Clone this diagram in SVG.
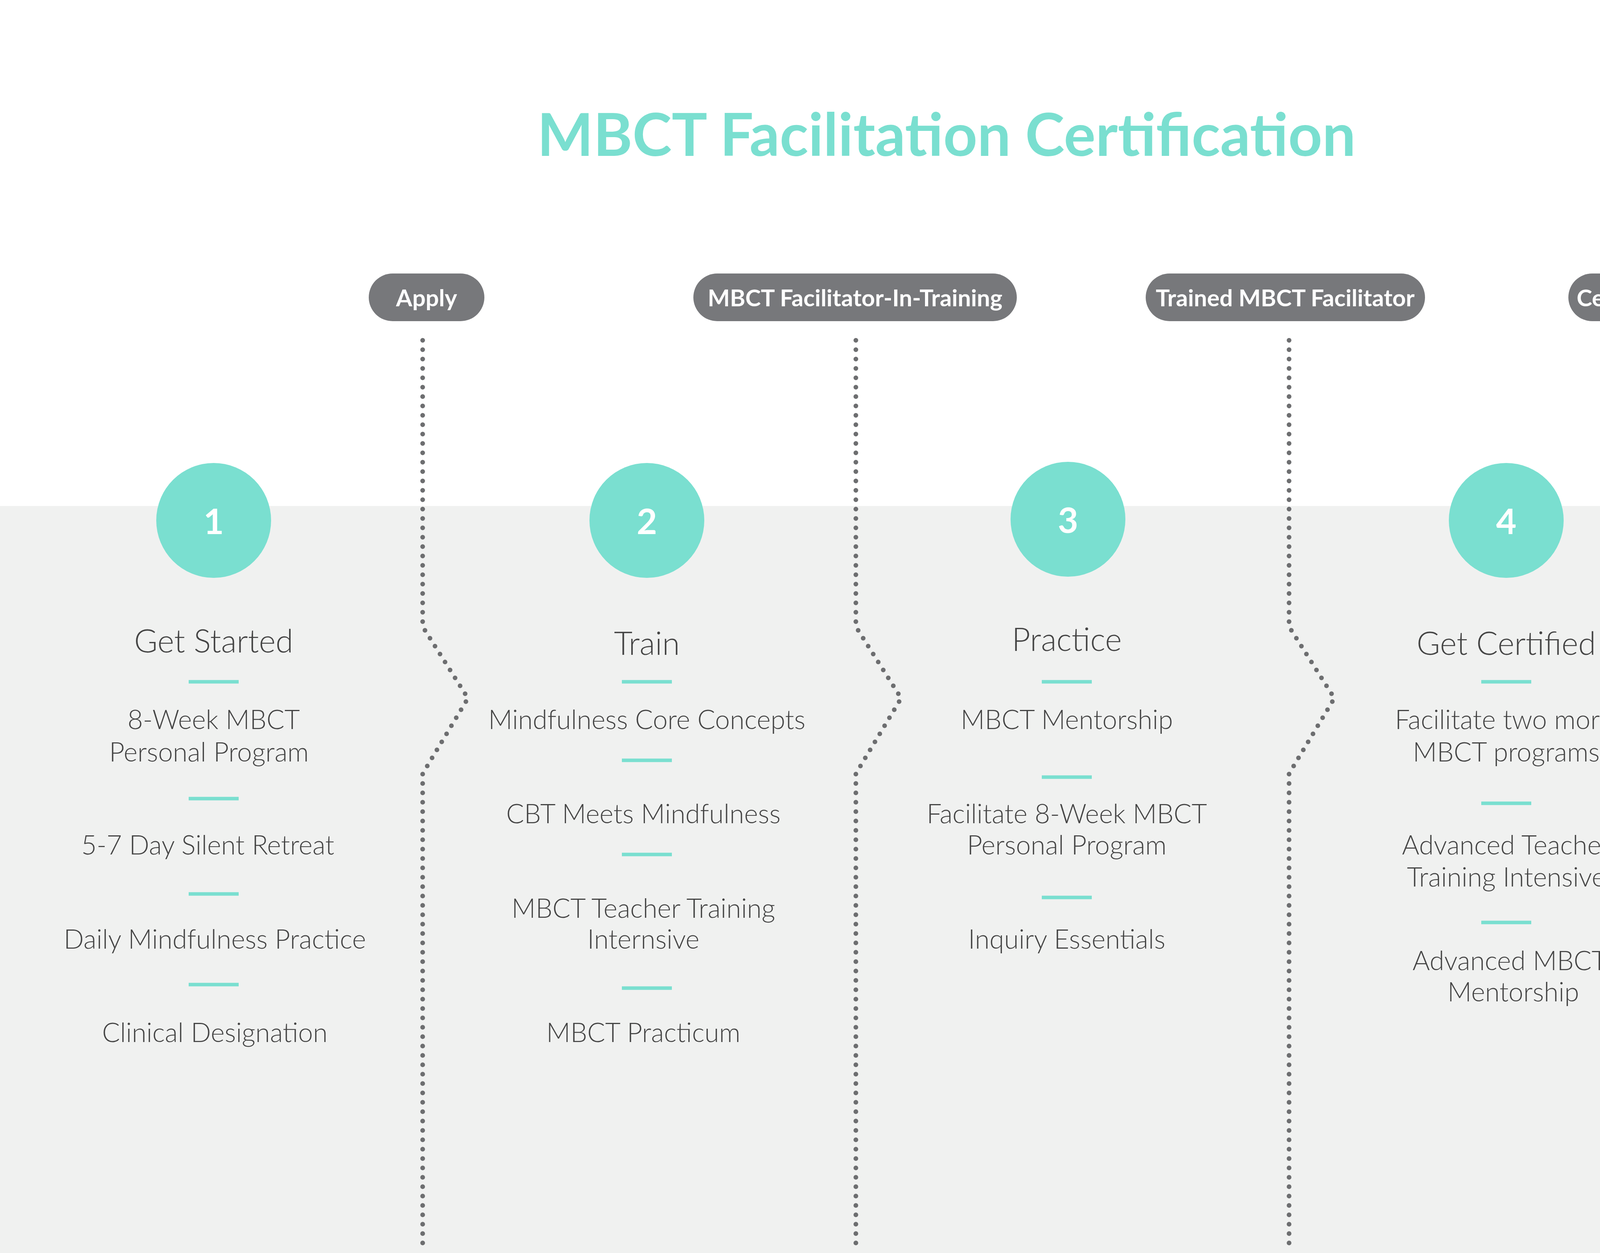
<svg xmlns="http://www.w3.org/2000/svg" width="4791" height="3207" viewBox="0 0 4791 3207">
<style>
.pill{fill:#77787b}
.pt{fill:#fff;font-family:Lato,"Open Sans",sans-serif;font-weight:700;font-size:60px;text-anchor:middle;dominant-baseline:central}
.dot{fill:none;stroke:#6d6e70;stroke-width:12;stroke-linecap:round;stroke-dasharray:0 24}
.circ{fill:#7adfd0}
.num{fill:#fff;font-family:Lato,"Open Sans",sans-serif;font-weight:700;font-size:90px;text-anchor:middle;dominant-baseline:central}
.h{fill:#444;font-family:Lato,"Open Sans",sans-serif;font-weight:300;font-size:82px;text-anchor:middle;dominant-baseline:central}
.t{fill:#444;font-family:Lato,"Open Sans",sans-serif;font-weight:300;font-size:68px;text-anchor:middle;dominant-baseline:central}
.d{stroke:#7adfd0;stroke-width:9}
</style>
<rect width="4791" height="3207" fill="#fff"/>
<rect x="0" y="1295" width="4791" height="1912" fill="#f0f1f0"/>
<text x="2423" y="340" fill="#7adfd0" font-family="Lato,'Open Sans',sans-serif" font-weight="700" font-size="152" text-anchor="middle" dominant-baseline="central">MBCT Facilitation Certification</text>
<g id="connectors">
<path class="dot" d="M1082 871V1604L1198 1787L1082 1980V3193"/>
<path class="dot" d="M2191 871V1604L2307 1787L2191 1980V3193"/>
<path class="dot" d="M3300 871V1604L3416 1787L3300 1980V3193"/>
<path class="dot" d="M4391 871V1604L4507 1787L4391 1980V3193"/>
</g>
<g id="pill-apply"><rect class="pill" x="944" y="700" width="296" height="122" rx="61"/><text class="pt" x="1092" y="761">Apply</text></g>
<g id="pill-fit"><rect class="pill" x="1775" y="700" width="828" height="122" rx="61"/><text class="pt" x="2189" y="761">MBCT Facilitator-In-Training</text></g>
<g id="pill-trained"><rect class="pill" x="2933" y="700" width="715" height="122" rx="61"/><text class="pt" x="3290" y="761">Trained MBCT Facilitator</text></g>
<g id="pill-certified"><rect class="pill" x="4015" y="700" width="742" height="122" rx="61"/><text class="pt" x="4386" y="761">Certified MBCT Facilitator</text></g>
<g id="step1">
<circle class="circ" cx="547" cy="1332" r="147"/><text class="num" x="547" y="1332">1</text>
<text class="h" x="547" y="1638">Get Started</text>
<line class="d" x1="483" y1="1745" x2="611" y2="1745"/>
<text class="t" x="547" y="1839">8-Week MBCT</text><text class="t" x="535" y="1922">Personal Program</text>
<line class="d" x1="483" y1="2044" x2="611" y2="2044"/>
<text class="t" x="532" y="2160">5-7 Day Silent Retreat</text>
<line class="d" x1="483" y1="2288" x2="611" y2="2288"/>
<text class="t" x="550" y="2401">Daily Mindfulness Practice</text>
<line class="d" x1="483" y1="2520" x2="611" y2="2520"/>
<text class="t" x="550" y="2640">Clinical Designation</text>
</g>
<g id="step2">
<circle class="circ" cx="1656" cy="1332" r="147"/><text class="num" x="1656" y="1332">2</text>
<text class="h" x="1656" y="1644">Train</text>
<line class="d" x1="1592" y1="1745" x2="1720" y2="1745"/>
<text class="t" x="1656" y="1839">Mindfulness Core Concepts</text>
<line class="d" x1="1592" y1="1946" x2="1720" y2="1946"/>
<text class="t" x="1647" y="2080">CBT Meets Mindfulness</text>
<line class="d" x1="1592" y1="2187" x2="1720" y2="2187"/>
<text class="t" x="1647" y="2322">MBCT Teacher Training</text><text class="t" x="1647" y="2401">Internsive</text>
<line class="d" x1="1592" y1="2529" x2="1720" y2="2529"/>
<text class="t" x="1647" y="2640">MBCT Practicum</text>
</g>
<g id="step3">
<circle class="circ" cx="2734" cy="1329" r="147"/><text class="num" x="2734" y="1329">3</text>
<text class="h" x="2731" y="1634">Practice</text>
<line class="d" x1="2667" y1="1745" x2="2795" y2="1745"/>
<text class="t" x="2731" y="1839">MBCT Mentorship</text>
<line class="d" x1="2667" y1="1989" x2="2795" y2="1989"/>
<text class="t" x="2731" y="2080">Facilitate 8-Week MBCT</text><text class="t" x="2731" y="2160">Personal Program</text>
<line class="d" x1="2667" y1="2297" x2="2795" y2="2297"/>
<text class="t" x="2731" y="2401">Inquiry Essentials</text>
</g>
<g id="step4">
<circle class="circ" cx="3856" cy="1332" r="147"/><text class="num" x="3856" y="1332">4</text>
<text class="h" x="3856" y="1644">Get Certified</text>
<line class="d" x1="3792" y1="1745" x2="3920" y2="1745"/>
<text class="t" x="3850" y="1839">Facilitate two more</text><text class="t" x="3856" y="1922">MBCT programs</text>
<line class="d" x1="3792" y1="2056" x2="3920" y2="2056"/>
<text class="t" x="3856" y="2160">Advanced Teacher</text><text class="t" x="3856" y="2242">Training Intensive</text>
<line class="d" x1="3792" y1="2361" x2="3920" y2="2361"/>
<text class="t" x="3865" y="2456">Advanced MBCT</text><text class="t" x="3874" y="2536">Mentorship</text>
</g>
</svg>
